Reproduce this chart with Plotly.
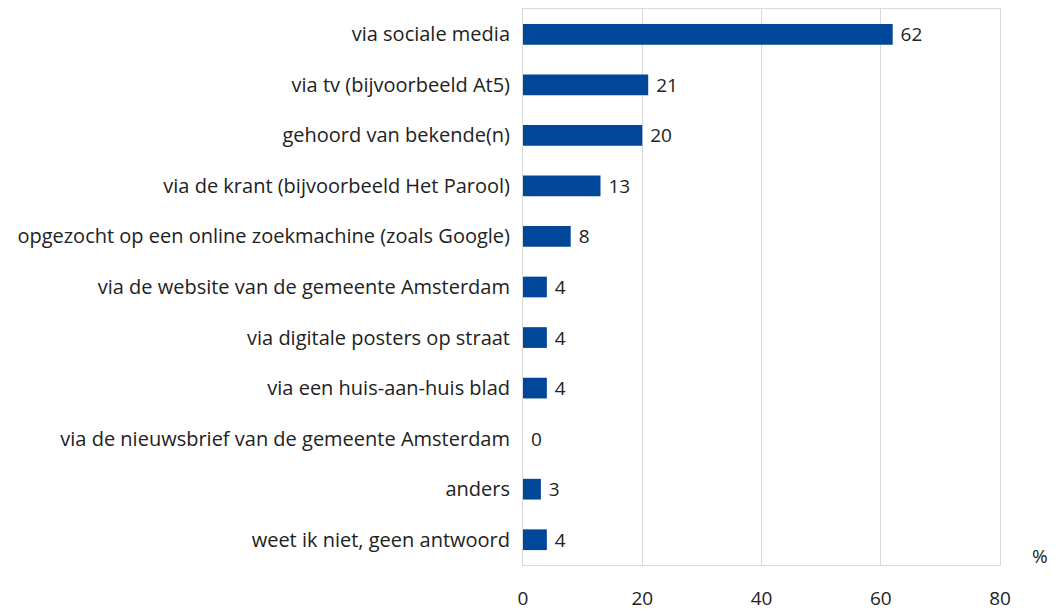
import plotly.graph_objects as go

categories = [
    'via sociale media',
    'via tv (bijvoorbeeld At5)',
    'gehoord van bekende(n)',
    'via de krant (bijvoorbeeld Het Parool)',
    'opgezocht op een online zoekmachine (zoals Google)',
    'via de website van de gemeente Amsterdam',
    'via digitale posters op straat',
    'via een huis-aan-huis blad',
    'via de nieuwsbrief van de gemeente Amsterdam',
    'anders',
    'weet ik niet, geen antwoord'
]

values = [62, 21, 20, 13, 8, 4, 4, 4, 0, 3, 4]

x_ticks = [0, 20, 40, 60, 80]

font_family = 'Open Sans, Lato, sans-serif'

# page body has an 8px margin, so the figure is sized a bit smaller
fig = go.Figure()

fig.add_trace(go.Bar(

    y=categories,

    x=values,

    orientation='h',

    width=0.41,

    marker=dict(
        color='#004699',
        line=dict(width=0)
    ),

    text=[' ' + str(v) for v in values],

    textposition='outside',

    constraintext='none',

    cliponaxis=False,

    textfont=dict(
        family=font_family,
        size=19,
        color='#222222'
    )

))

fig.update_xaxes(

    range=[0, 80],

    tickvals=x_ticks,

    showgrid=True,

    gridcolor='#d9d9d9',

    gridwidth=1,

    showline=True,

    linecolor='#d9d9d9',

    mirror=True,

    zeroline=False,

    ticks='',

    ticklabelstandoff=16,

    tickfont=dict(
        family=font_family,
        size=19,
        color='#222222'
    )

)

fig.update_yaxes(

    autorange='reversed',

    showline=True,

    linecolor='#d9d9d9',

    mirror=True,

    ticks='',

    ticklabelstandoff=8,

    tickfont=dict(
        family=font_family,
        size=20,
        color='#222222'
    )

)

fig.add_annotation(

    text='%',

    xref='paper',

    yref='paper',

    x=1.084,

    y=0.016,

    xanchor='center',

    yanchor='middle',

    showarrow=False,

    font=dict(
        family=font_family,
        size=19,
        color='#222222'
    )

)

fig.update_layout(

    width=1048,

    height=603,

    showlegend=False,

    margin=dict(
        l=515,
        r=56,
        t=0,
        b=42
    ),

    plot_bgcolor='white',

    paper_bgcolor='white'

)

fig.write_html("out.html")
